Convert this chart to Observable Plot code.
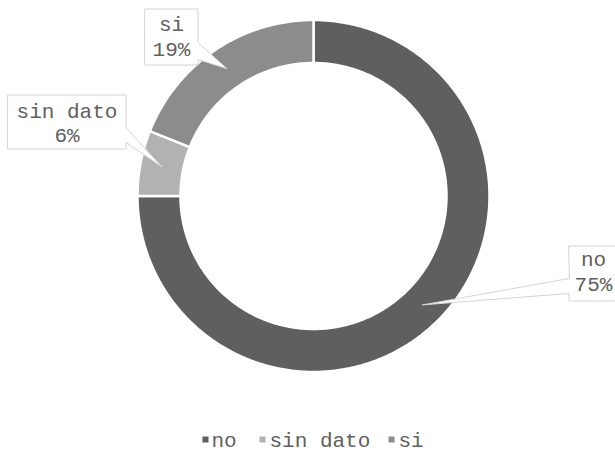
<!DOCTYPE html>
<html>
<head>
<meta charset="utf-8">
<script src="https://cdn.jsdelivr.net/npm/d3@7"></script>
<script src="https://cdn.jsdelivr.net/npm/@observablehq/plot@0.6"></script>
<style>
  html, body { margin: 0; padding: 0; background: #ffffff; }
  #chart { width: 615px; height: 452px; overflow: hidden; }
</style>
</head>
<body>
<div id="chart"></div>
<script>
// ---- data ----
const categories = ["no", "sin dato", "si"];
const values = [75, 6, 19];
const percentLabels = ["75%", "6%", "19%"];

// ---- styles / layout (not data) ----
const colors = ["#5f5f5f", "#b2b2b2", "#8c8c8c"];
const W = 615, H = 452;
const cx = 313, cy = 195.5, R = 176, r = 133, rMid = 154;
const textColor = "#606060";
const boxStroke = "#d4d4d4";
const font = "'Liberation Mono', 'DejaVu Sans Mono', monospace";
const fs = 21;
const boxes = [
  {x0: 568.5, y0: 245.5, x1: 618, y1: 300.5, side: "left", wa: 278, wb: 293, tx: 593, b1: 265, b2: 290},
  {x0: 7.5, y0: 94.5, x1: 125.5, y1: 148.5, side: "right", wa: 127, wb: 142, tx: 66.5, b1: 117, b2: 141},
  {x0: 144.5, y0: 8.5, x1: 197.5, y1: 64.5, side: "right", wa: 42, wb: 59, tx: 171, b1: 30, b2: 55}
];
const legendX = [205, 262, 391];
const legendTextX = [211, 269, 398];
const legendBaseline = 446;

// ---- geometry from data ----
const total = d3.sum(values);
let acc = 0;
const slices = values.map((v, i) => {
  const a0 = acc / total * 360;
  acc += v;
  const a1 = acc / total * 360;
  return {i, a0, a1, mid: (a0 + a1) / 2};
});
const pt = (deg, rad) => {
  const t = deg * Math.PI / 180;
  return [cx + rad * Math.sin(t), cy - rad * Math.cos(t)];
};
function slicePoly(s) {
  const pts = [];
  const n = Math.max(2, Math.ceil((s.a1 - s.a0) / 0.5));
  for (let k = 0; k <= n; k++) pts.push(pt(s.a0 + (s.a1 - s.a0) * k / n, R));
  for (let k = n; k >= 0; k--) pts.push(pt(s.a0 + (s.a1 - s.a0) * k / n, r));
  return pts;
}
function boxPoly(b, tip) {
  if (b.side === "right") {
    return [[b.x0, b.y0], [b.x1, b.y0], [b.x1, b.wa], tip, [b.x1, b.wb], [b.x1, b.y1], [b.x0, b.y1]];
  } else {
    return [[b.x0, b.y0], [b.x1, b.y0], [b.x1, b.y1], [b.x0, b.y1], [b.x0, b.wb], tip, [b.x0, b.wa]];
  }
}

const marks = [];
slices.forEach(s => {
  marks.push(Plot.line(slicePoly(s), {
    x: d => d[0], y: d => d[1], curve: "linear-closed",
    fill: colors[s.i], stroke: "#ffffff", strokeWidth: 2.5
  }));
});
const labelTexts = [];
slices.forEach(s => {
  const b = boxes[s.i];
  const tip = pt(s.mid, rMid);
  marks.push(Plot.line(boxPoly(b, tip), {
    x: d => d[0], y: d => d[1], curve: "linear-closed",
    fill: "#ffffff", stroke: boxStroke, strokeWidth: 1
  }));
  labelTexts.push({x: b.tx, y: b.b1, t: categories[s.i]});
  labelTexts.push({x: b.tx, y: b.b2, t: percentLabels[s.i]});
});
marks.push(Plot.text(labelTexts, {
  x: "x", y: d => d.y - 0.32 * fs, text: "t", fill: textColor,
  fontSize: fs, fontFamily: font, textAnchor: "middle", lineAnchor: "middle"
}));
const legendData = categories.map((c, i) => ({c, i}));
marks.push(Plot.dot(legendData, {
  x: d => legendX[d.i], y: legendBaseline - 7, symbol: "square", r: 3.4,
  fill: d => colors[d.i], stroke: null
}));
marks.push(Plot.text(legendData, {
  x: d => legendTextX[d.i], y: legendBaseline - 0.32 * fs, text: "c", fill: textColor,
  fontSize: fs, fontFamily: font, textAnchor: "start", lineAnchor: "middle"
}));

const chart = Plot.plot({
  width: W, height: H, margin: 0,
  x: {domain: [0, W], range: [0, W], axis: null},
  y: {domain: [0, H], range: [0, H], axis: null},
  style: {background: "#ffffff", fontFamily: font},
  marks
});
document.getElementById("chart").appendChild(chart);
</script>
</body>
</html>
